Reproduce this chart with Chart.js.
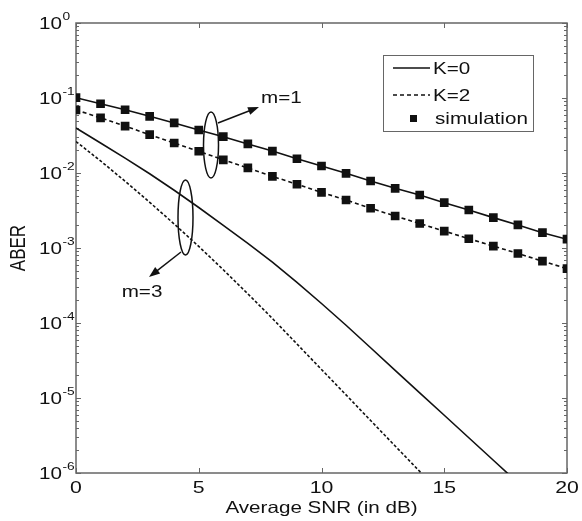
<!DOCTYPE html>
<html>
<head>
<meta charset="utf-8">
<script src="https://cdn.jsdelivr.net/npm/chart.js@4.4.1/dist/chart.umd.min.js"></script>
<style>
  body { margin: 0; background: #fff; }
  canvas { display: block; }
</style>
</head>
<body>
<canvas id="aberChart" width="582" height="521"></canvas>
<script>
// values (ABER vs average SNR)
const snr = [0, 1, 2, 3, 4, 5, 6, 7, 8, 9, 10, 11, 12, 13, 14, 15, 16, 17, 18, 19, 20];
const aberM1K0 = [0.101, 0.0839, 0.0698, 0.0570, 0.0465, 0.0374, 0.0305, 0.0244, 0.0196, 0.0155, 0.0124,
  0.00991, 0.00782, 0.00625, 0.00509, 0.00402, 0.00321, 0.00254, 0.00203, 0.00160, 0.00131];
const aberM1K2 = [0.0692, 0.0543, 0.0422, 0.0324, 0.0251, 0.0195, 0.0150, 0.0117, 0.00902, 0.00708, 0.00552,
  0.00437, 0.00339, 0.00267, 0.00212, 0.00168, 0.00133, 0.00106, 0.000845, 0.000668, 0.000531];
const aberM3K0 = [0.0398, 0.0251, 0.0158, 0.00977, 0.00589, 0.00347, 0.00200, 0.00115, 0.000646, 0.000347,
  0.000182, 9.33e-5, 4.68e-5, 2.34e-5, 1.17e-5, 5.89e-6, 2.95e-6, 1.48e-6, 7.41e-7];
const aberM3K2 = [0.0263, 0.0145, 0.00776, 0.00407, 0.00209, 0.00105, 0.000513, 0.000245, 0.000115, 5.25e-5,
  2.40e-5, 1.10e-5, 5.01e-6, 2.29e-6, 1.05e-6, 4.79e-7];

const xTicks = [0, 5, 10, 15, 20];
const yTickExps = [0, -1, -2, -3, -4, -5, -6];
const legendLabels = ['K=0', 'K=2', 'simulation'];
const xTitle = 'Average SNR (in dB)';
const yTitle = 'ABER';

const FONT = '"Liberation Sans", Arial, sans-serif';
const SX = 1.25; // the scanned figure is stretched sideways
const INK = '#111';
const AXIS = '#666';

function pts(arr) {
  return arr.map((v, i) => ({ x: snr[i], y: v }));
}

function text(ctx, str, x, y, size, align, baseline) {
  ctx.save();
  ctx.translate(x, y);
  ctx.scale(SX, 1);
  ctx.font = size + 'px ' + FONT;
  ctx.textAlign = align;
  ctx.textBaseline = baseline;
  ctx.fillStyle = INK;
  ctx.fillText(str, 0, 0);
  ctx.restore();
}

function arrow(ctx, x1, y1, x2, y2) {
  const a = Math.atan2(y2 - y1, x2 - x1);
  const len = 11, half = 4;
  ctx.beginPath();
  ctx.moveTo(x1, y1);
  ctx.lineTo(x2 - Math.cos(a) * len * 0.8, y2 - Math.sin(a) * len * 0.8);
  ctx.stroke();
  ctx.beginPath();
  ctx.moveTo(x2, y2);
  ctx.lineTo(x2 - Math.cos(a) * len - Math.sin(a) * half, y2 - Math.sin(a) * len + Math.cos(a) * half);
  ctx.lineTo(x2 - Math.cos(a) * len + Math.sin(a) * half, y2 - Math.sin(a) * len - Math.cos(a) * half);
  ctx.closePath();
  ctx.fill();
}

// MATLAB style box with inward ticks, drawn under the curves
const framePlugin = {
  id: 'frame',
  beforeDatasetsDraw(chart) {
    const { ctx, chartArea: a, scales } = chart;
    const xs = scales.x, ys = scales.y;
    ctx.save();
    ctx.strokeStyle = AXIS;
    ctx.lineWidth = 1.5;
    ctx.strokeRect(a.left, a.top, a.right - a.left, a.bottom - a.top);
    ctx.lineWidth = 1;
    ctx.beginPath();
    xTicks.forEach(v => {
      const px = Math.round(xs.getPixelForValue(v)) + 0.5;
      ctx.moveTo(px, a.bottom); ctx.lineTo(px, a.bottom - 5);
      ctx.moveTo(px, a.top); ctx.lineTo(px, a.top + 5);
    });
    yTickExps.forEach(e => {
      const py = Math.round(ys.getPixelForValue(Math.pow(10, e))) + 0.5;
      ctx.moveTo(a.left, py); ctx.lineTo(a.left + 5, py);
      ctx.moveTo(a.right, py); ctx.lineTo(a.right - 5, py);
      if (e > -6) {
        for (let m = 2; m <= 9; m++) {
          const pm = Math.round(ys.getPixelForValue(m * Math.pow(10, e - 1))) + 0.5;
          ctx.moveTo(a.left, pm); ctx.lineTo(a.left + 3, pm);
          ctx.moveTo(a.right, pm); ctx.lineTo(a.right - 3, pm);
        }
      }
    });
    ctx.stroke();

    // tick labels and axis titles
    xTicks.forEach(v => text(ctx, String(v), xs.getPixelForValue(v), 493, 17, 'center', 'alphabetic'));
    yTickExps.forEach(e => {
      const py = ys.getPixelForValue(Math.pow(10, e));
      text(ctx, '10', 62, py + 6, 16.5, 'right', 'alphabetic');
      text(ctx, String(e), 62.5, py - 3, 11, 'left', 'alphabetic');
    });
    text(ctx, xTitle, (a.left + a.right) / 2, 513, 16.5, 'center', 'alphabetic');
    ctx.save();
    ctx.translate(19, (a.top + a.bottom) / 2);
    ctx.scale(SX, 1);
    ctx.rotate(-Math.PI / 2);
    ctx.font = '17px ' + FONT;
    ctx.textAlign = 'center';
    ctx.textBaseline = 'middle';
    ctx.fillStyle = INK;
    ctx.fillText(yTitle, 0, 0);
    ctx.restore();
    ctx.restore();
  },
  afterDraw(chart) {
    const { ctx } = chart;
    ctx.save();
    // legend box
    ctx.fillStyle = '#fff';
    ctx.fillRect(383, 55, 150, 76);
    ctx.strokeStyle = AXIS;
    ctx.lineWidth = 1;
    ctx.strokeRect(383.5, 55.5, 150, 76);
    ctx.strokeStyle = INK;
    ctx.lineWidth = 1.6;
    ctx.beginPath(); ctx.moveTo(393, 68); ctx.lineTo(430, 68); ctx.stroke();
    ctx.setLineDash([4, 3]);
    ctx.beginPath(); ctx.moveTo(393, 95); ctx.lineTo(430, 95); ctx.stroke();
    ctx.setLineDash([]);
    ctx.fillStyle = INK;
    ctx.fillRect(410, 115, 7, 7);
    text(ctx, legendLabels[0], 433, 74, 16.5, 'left', 'alphabetic');
    text(ctx, legendLabels[1], 433, 101, 16.5, 'left', 'alphabetic');
    text(ctx, legendLabels[2], 435, 124, 16.5, 'left', 'alphabetic');

    // annotations
    ctx.strokeStyle = INK;
    ctx.fillStyle = INK;
    ctx.lineWidth = 1.5;
    ctx.beginPath(); ctx.ellipse(211, 145, 7.5, 33, 0, 0, Math.PI * 2); ctx.stroke();
    ctx.beginPath(); ctx.ellipse(185.5, 217.5, 7.5, 37.5, 0, 0, Math.PI * 2); ctx.stroke();
    arrow(ctx, 218, 123, 259, 107);
    arrow(ctx, 181, 252, 149, 277);
    text(ctx, 'm=1', 261, 103, 16.5, 'left', 'alphabetic');
    text(ctx, 'm=3', 142, 297, 16.5, 'center', 'alphabetic');
    ctx.restore();
  }
};

const lineBase = { borderColor: INK, backgroundColor: INK, borderWidth: 1.6, tension: 0, fill: false };

new Chart(document.getElementById('aberChart').getContext('2d'), {
  type: 'line',
  data: {
    datasets: [
      Object.assign({ label: 'm=1, K=0', data: pts(aberM1K0), pointStyle: 'rect', pointRadius: 5 }, lineBase),
      Object.assign({ label: 'm=1, K=2', data: pts(aberM1K2), pointStyle: 'rect', pointRadius: 5, borderDash: [4, 3] }, lineBase),
      Object.assign({ label: 'm=3, K=0', data: pts(aberM3K0), pointRadius: 0 }, lineBase),
      Object.assign({ label: 'm=3, K=2', data: pts(aberM3K2), pointRadius: 0, borderDash: [3, 2] }, lineBase)
    ]
  },
  options: {
    responsive: false,
    animation: false,
    devicePixelRatio: 1,
    layout: { padding: { left: 76, right: 15, top: 23, bottom: 48 } },
    scales: {
      x: { type: 'linear', min: 0, max: 20, display: false },
      y: { type: 'logarithmic', min: 1e-6, max: 1, display: false }
    },
    plugins: { legend: { display: false }, tooltip: { enabled: false } }
  },
  plugins: [framePlugin]
});
</script>
</body>
</html>
